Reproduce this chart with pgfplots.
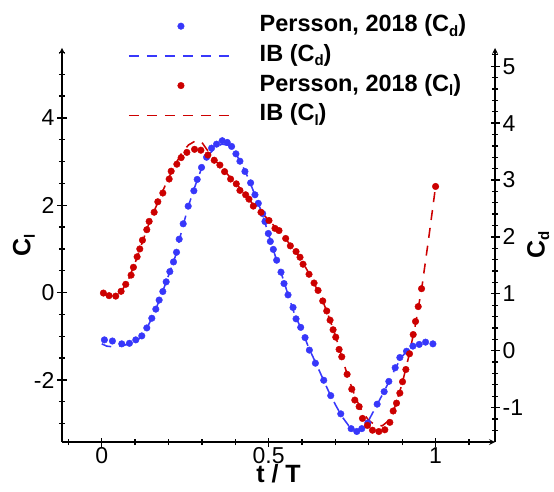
\documentclass[border=0pt]{standalone}
\usepackage{pgfplots}
\pgfplotsset{compat=1.18}
\usepackage{fontspec}
\setmainfont{Liberation Sans}
\definecolor{cdblue}{RGB}{55,55,250}
\definecolor{clred}{RGB}{204,0,0}
\definecolor{cdbluel}{RGB}{56,56,251}
\definecolor{clredl}{RGB}{205,1,1}
\newcommand{\sub}[1]{\raisebox{-4.5pt}{\fontsize{15}{15}\selectfont #1}}
\pgfplotsset{
  common/.style={
    width=433pt, height=394pt, scale only axis,
    xmin=-0.119, xmax=1.178,
    tick align=inside,
    major tick length=9pt, minor tick length=6pt,
    every tick/.style={black, line width=1.3pt},
    axis line style={-, line width=1.6pt, black},
    tick label style={font=\fontsize{23}{23}\selectfont},
    /pgf/number format/assume math mode=true,
    clip=false,
  },
  bluedots/.style={only marks, mark=*, mark size=3.3pt, draw=cdblue, fill=cdblue,
    legend image code/.code={\draw[mark repeat=2,mark phase=2,##1] plot coordinates {(0pt,0pt) (52pt,0pt) (104pt,0pt)};}},
  reddots/.style={only marks, mark=*, mark size=3.3pt, draw=clred, fill=clred,
    legend image code/.code={\draw[mark repeat=2,mark phase=2,##1] plot coordinates {(0pt,0pt) (52pt,0pt) (104pt,0pt)};}},
  blueline/.style={draw=cdbluel, line width=1.55pt, dash pattern=on 10pt off 8pt, mark=none,
    legend image code/.code={\pgfsetstrokecolor{white}\pgfsetlinewidth{0.1pt}\draw[cdbluel, line width=1.55pt, dash pattern=on 10pt off 8pt] (0pt,0pt) -- (104pt,0pt);}},
  redline/.style={draw=clredl, line width=1.55pt, dash pattern=on 10pt off 8pt, mark=none,
    legend image code/.code={\pgfsetstrokecolor{white}\pgfsetlinewidth{0.1pt}\draw[clredl, line width=1.55pt, dash pattern=on 10pt off 8pt] (0pt,0pt) -- (104pt,0pt);}},
  % C_d values (right axis, -1.605..5.32) mapped onto the C_l axis (-3.42..5.60)
  cdscale/.style={y filter/.expression={-3.42+(y+1.605)*1.302527}},
}
\begin{document}
\begin{tikzpicture}
\path[use as bounding box] (-62pt,-49pt) rectangle (492pt,442pt);
% right axis: C_d ticks only
\begin{axis}[common,
  axis x line=none, axis y line=right,
  ymin=-1.605, ymax=5.32,
  ytick={-1,0,1,2,3,4,5},
  minor ytick={-1.4,-1.2,-0.8,-0.6,-0.4,-0.2,0.2,0.4,0.6,0.8,1.2,1.4,1.6,1.8,2.2,2.4,2.6,2.8,3.2,3.4,3.6,3.8,4.2,4.4,4.6,4.8,5.2},
  yticklabel style={anchor=west, inner sep=0pt, xshift=3pt},
]
\addplot[draw=none, forget plot] coordinates {(0,0)};
\node[rotate=90, anchor=north, inner sep=0pt, font=\fontsize{25}{25}\selectfont\bfseries]
  at ([xshift=32pt]rel axis cs:1,0.5) {C\sub{d}};
\end{axis}
% main axis: C_l (left) with all series
\begin{axis}[common,
  axis x line=bottom, axis y line=left,
  ymin=-3.42, ymax=5.60,
  xtick={0,0.5,1},
  minor xtick={-0.1,0.1,0.2,0.3,0.4,0.6,0.7,0.8,0.9,1.1},
  ytick={-2,0,2,4},
  minor ytick={-3,-2.5,-1.5,-1,-0.5,0.5,1,1.5,2.5,3,3.5,4.5,5,5.5},
  xticklabel style={anchor=north, inner sep=0pt, yshift=-1pt},
  yticklabel style={anchor=east, inner sep=0pt, xshift=-3pt},
  legend style={at={(rel axis cs:0.1524,1.0914)}, anchor=north west, draw=none, fill=none,
    font=\fontsize{23.5}{23.5}\selectfont\bfseries, inner sep=0pt, yshift=-2.5pt,
    nodes={inner sep=0pt, text height=17pt, text depth=6pt},
    row sep=6.7pt,
    /tikz/every odd column/.append style={column sep=26pt}},
  legend cell align=left,
]
\addplot[bluedots, cdscale] coordinates {
(0.008,0.19) (0.032,0.17) (0.060,0.12) (0.083,0.13) (0.102,0.19) (0.120,0.26)
(0.135,0.40) (0.150,0.57) (0.162,0.73) (0.172,0.89) (0.183,1.04) (0.193,1.21)
(0.204,1.39) (0.215,1.56) (0.224,1.73) (0.232,1.96) (0.244,2.23) (0.259,2.54)
(0.276,2.81) (0.286,3.01) (0.299,3.22) (0.314,3.40) (0.329,3.56) (0.344,3.63)
(0.361,3.69) (0.376,3.66) (0.389,3.59) (0.402,3.46) (0.414,3.33) (0.429,3.15)
(0.446,2.95) (0.459,2.74) (0.469,2.59) (0.482,2.41) (0.489,2.27) (0.499,2.06)
(0.505,1.92) (0.514,1.78) (0.524,1.59) (0.537,1.38) (0.546,1.18) (0.558,0.98)
(0.573,0.76) (0.582,0.56) (0.596,0.41) (0.609,0.23) (0.622,0.01) (0.640,-0.22)
(0.665,-0.52) (0.686,-0.79) (0.716,-1.11) (0.747,-1.37) (0.764,-1.42) (0.779,-1.37)
(0.797,-1.27) (0.825,-0.94) (0.846,-0.72) (0.860,-0.54) (0.879,-0.30) (0.893,-0.12)
(0.913,-0.01) (0.932,0.08) (0.951,0.11) (0.970,0.15) (0.992,0.12)
};
\addlegendentry{Persson, 2018 (C\sub{d})}
\addplot[blueline, cdscale] coordinates {
(0.0,0.12) (0.015,0.08) (0.03,0.07) (0.05,0.08) (0.07,0.10) (0.09,0.13) (0.11,0.20)
(0.12,0.26) (0.14,0.45) (0.16,0.70) (0.18,1.00) (0.20,1.32) (0.22,1.65) (0.24,2.12)
(0.26,2.55) (0.28,2.90) (0.30,3.22) (0.32,3.44) (0.34,3.57) (0.36,3.63) (0.38,3.61)
(0.40,3.48) (0.42,3.27) (0.44,3.02) (0.46,2.72) (0.48,2.42) (0.50,2.04) (0.52,1.66)
(0.54,1.32) (0.56,0.95) (0.58,0.60) (0.60,0.36) (0.62,0.05) (0.64,-0.20) (0.66,-0.46)
(0.68,-0.72) (0.70,-0.95) (0.72,-1.16) (0.74,-1.32) (0.76,-1.40) (0.78,-1.38)
(0.80,-1.22) (0.82,-1.00) (0.84,-0.78) (0.86,-0.55) (0.88,-0.30) (0.90,-0.10)
(0.92,0.03) (0.94,0.10)
};
\addlegendentry{IB (C\sub{d})}
\addplot[reddots] coordinates {
(0.005,-0.01) (0.022,-0.07) (0.042,-0.08) (0.058,0.03) (0.072,0.19) (0.088,0.40)
(0.095,0.58) (0.106,0.82) (0.114,1.00) (0.122,1.20) (0.135,1.44) (0.142,1.63)
(0.157,1.84) (0.168,2.08) (0.183,2.28) (0.202,2.60) (0.208,2.78) (0.225,2.94)
(0.238,3.09) (0.255,3.21) (0.278,3.28) (0.297,3.26) (0.318,3.15) (0.337,3.03)
(0.354,2.92) (0.368,2.77) (0.386,2.60) (0.403,2.49) (0.414,2.34) (0.431,2.24)
(0.441,2.14) (0.454,1.98) (0.477,1.84) (0.501,1.65) (0.519,1.47) (0.531,1.42)
(0.551,1.24) (0.565,1.07) (0.582,0.94) (0.594,0.81) (0.603,0.65) (0.621,0.42)
(0.636,0.22) (0.648,0.05) (0.662,-0.19) (0.674,-0.42) (0.684,-0.63) (0.693,-0.85)
(0.701,-1.02) (0.711,-1.30) (0.719,-1.47) (0.735,-1.87) (0.749,-2.21) (0.758,-2.46)
(0.771,-2.61) (0.781,-2.88) (0.796,-3.04) (0.811,-3.15) (0.830,-3.18) (0.848,-3.14)
(0.863,-2.97) (0.873,-2.71) (0.883,-2.53) (0.893,-2.30) (0.901,-2.04) (0.911,-1.76)
(0.922,-1.40) (0.933,-0.96) (0.940,-0.66) (0.948,-0.32) (0.958,0.09) (1.000,2.43)
};
\addlegendentry{Persson, 2018 (C\sub{l})}
\addplot[redline] coordinates {
(0.0,-0.02) (0.02,-0.07) (0.04,-0.07) (0.06,0.04) (0.08,0.30) (0.10,0.68) (0.12,1.12)
(0.14,1.55) (0.16,1.92) (0.18,2.28) (0.20,2.62) (0.22,2.93) (0.24,3.20) (0.26,3.38)
(0.28,3.47) (0.30,3.44) (0.32,3.22) (0.34,3.02) (0.36,2.86) (0.38,2.68) (0.40,2.53)
(0.42,2.33) (0.44,2.15) (0.46,1.95) (0.48,1.82) (0.50,1.66) (0.52,1.50) (0.54,1.34)
(0.56,1.14) (0.58,0.95) (0.60,0.72) (0.62,0.45) (0.64,0.15) (0.66,-0.15) (0.68,-0.55)
(0.70,-0.98) (0.72,-1.50) (0.74,-1.98) (0.76,-2.40) (0.78,-2.72) (0.80,-2.93)
(0.82,-3.03) (0.84,-3.05) (0.86,-2.93) (0.88,-2.58) (0.90,-2.08) (0.92,-1.45)
(0.94,-0.72) (0.96,0.18) (0.98,1.28) (1.0,2.43)
};
\addlegendentry{IB (C\sub{l})}
\node[anchor=north, inner sep=0pt, font=\fontsize{25}{25}\selectfont\bfseries]
  at ([yshift=-22pt]rel axis cs:0.5,0) {t / T};
\node[rotate=90, anchor=south, inner sep=0pt, font=\fontsize{25}{25}\selectfont\bfseries]
  at ([xshift=-27pt]rel axis cs:0,0.5) {C\sub{l}};
\end{axis}
\end{tikzpicture}
\end{document}
